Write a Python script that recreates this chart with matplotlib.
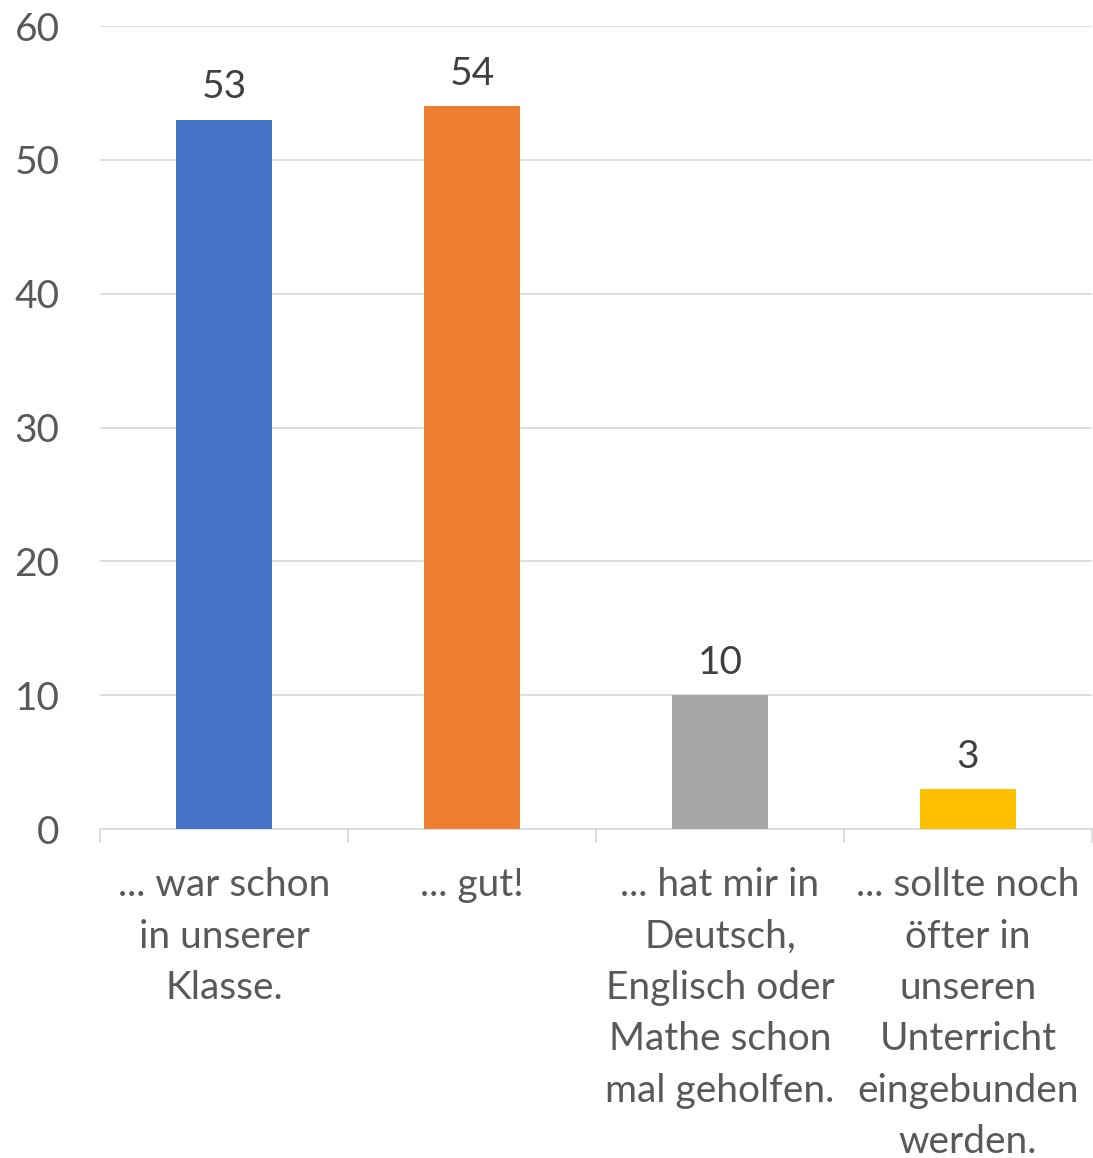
import matplotlib
matplotlib.use("Agg")
import matplotlib.pyplot as plt

categories = [
    "... war schon\nin unserer\nKlasse.",
    "... gut!",
    "... hat mir in\nDeutsch,\nEnglisch oder\nMathe schon\nmal geholfen.",
    "... sollte noch\nöfter in\nunseren\nUnterricht\neingebunden\nwerden.",
]
values = [53, 54, 10, 3]
colors = ["#4472C4", "#ED7D31", "#A5A5A5", "#FFC000"]
y_ticks = [0, 10, 20, 30, 40, 50, 60]

plt.rcParams["font.family"] = ["Lato", "DejaVu Sans"]
text_color = "#595959"
fs = 28

fig = plt.figure(figsize=(10.93, 11.58), dpi=100)
ax = fig.add_axes([0.0915, 0.284, 0.9075, 0.6935])

x = range(len(values))
bars = ax.bar(x, values, width=0.387, color=colors, zorder=3)
for xi, v in zip(x, values):
    ax.text(xi, v + 1.6, str(v), ha="center", va="baseline",
            fontsize=fs, color="#404040")

ax.set_xlim(-0.5, len(values) - 0.5)
ax.set_ylim(0, 60)
ax.set_yticks(y_ticks)
ax.set_yticklabels([str(t) for t in y_ticks], fontsize=fs, color=text_color)
ax.tick_params(axis="y", length=0, pad=29)
ax.yaxis.grid(True, color="#D9D9D9", linewidth=1.2, zorder=0)

# category labels at bar centres, tick marks at category boundaries
ax.set_xticks(list(x))
ax.set_xticklabels(categories, fontsize=fs, color=text_color,
                   linespacing=1.53, va="top")
ax.tick_params(axis="x", length=0, pad=27.5)
ax.set_xticks([i - 0.5 for i in range(len(values) + 1)], minor=True)
ax.tick_params(axis="x", which="minor", length=10, color="#D9D9D9", width=1.2)

for side in ["top", "right", "left"]:
    ax.spines[side].set_visible(False)
ax.spines["bottom"].set_color("#D9D9D9")
ax.spines["bottom"].set_linewidth(1.2)

plt.savefig("out.png", dpi=100)
